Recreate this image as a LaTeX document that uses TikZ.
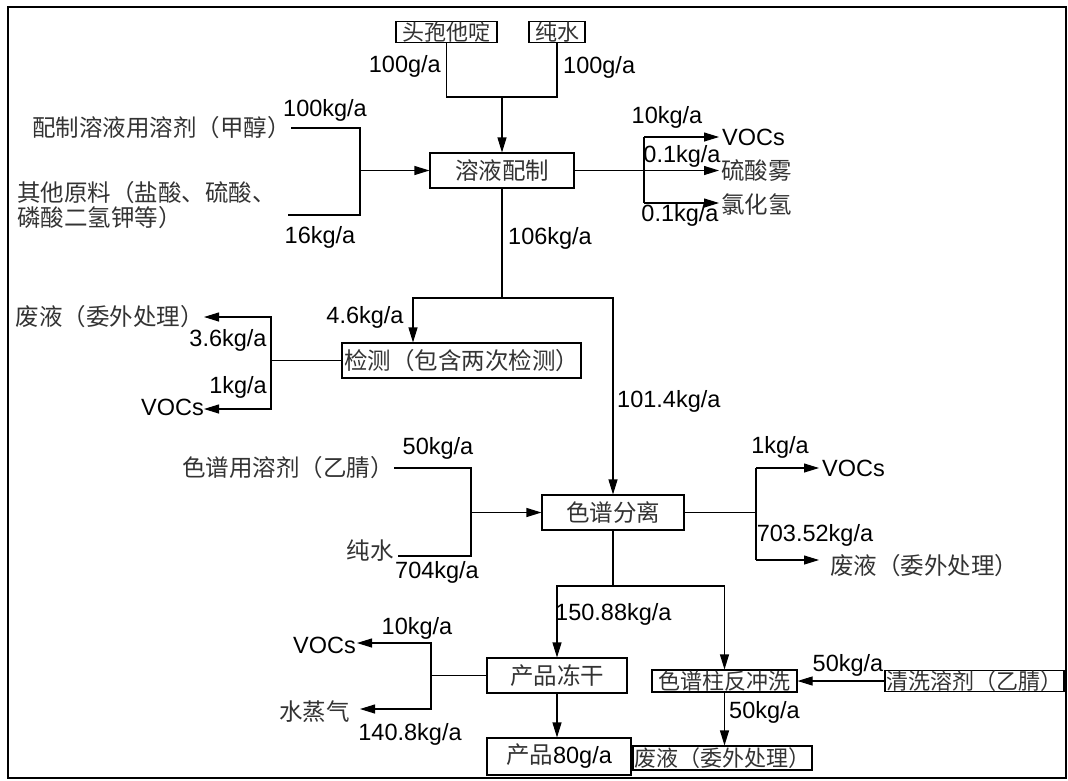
\documentclass[tikz,border=0pt]{standalone}
\usepackage{fontspec}
\setmainfont{Liberation Sans}
\newfontfamily\cjk{Noto Sans CJK SC}
\usetikzlibrary{arrows.meta}
\begin{document}
\begin{tikzpicture}[x=1pt,y=-1pt,
  every node/.style={inner sep=0pt},
  cn/.style={font=\cjk\fontsize{23.5}{25}\selectfont, text=black!80},
  num/.style={font=\fontsize{23.5}{25}\selectfont},
  box/.style={draw, line width=1.1pt, cn},
  tbox/.style={draw, line width=1.1pt, font=\cjk\fontsize{22}{23}\selectfont, text=black!80},
  ln/.style={line width=1.1pt},
  arr/.style={ln, -{Triangle[length=15pt,width=9pt]}}]
\useasboundingbox (0,0) rectangle (1068,780);
\draw[line width=1.5pt] (8,7) rectangle (1066,778);

% boxes
\node[tbox, minimum width=101, minimum height=20] (ceft) at (446.5,32) {头孢他啶};
\node[tbox, minimum width=56, minimum height=20] (water1) at (557,32) {纯水};
\node[box, minimum width=144, minimum height=35] (prep) at (502,170.5) {溶液配制};
\node[box, minimum width=239, minimum height=35] (check) at (461.5,360.5) {检测（包含两次检测）};
\node[box, minimum width=142, minimum height=35] (sep) at (613,512.5) {色谱分离};
\node[box, minimum width=140, minimum height=35] (freeze) at (557,675.5) {产品冻干};
\node[box, minimum width=144, minimum height=37] (product) at (559,756.5) {产品{\rmfamily\color{black}80g/a}};
\node[tbox, minimum width=145, minimum height=22] (back) at (724.5,681) {色谱柱反冲洗};
\node[tbox, minimum width=179, minimum height=21] (wash) at (974.5,681) {清洗溶剂（乙腈）};
\node[tbox, minimum width=179, minimum height=24] (waste3) at (722.5,758) {废液（委外处理）};

% top inputs
\coordinate (m1) at (502,97);
\draw[ln] (ceft.south) |- (m1) -| (water1.south);
\draw[arr] (m1) -- (prep.north);
\node[num, anchor=east] at (441,66) {100g/a};
\node[num, anchor=west] at (563,67) {100g/a};

% left inputs to prep
\node[cn, anchor=east] (in1) at (291,128) {配制溶液用溶剂（甲醇）};
\node[cn, anchor=west, align=left] (in2) at (17,205) {其他原料（盐酸、硫酸、\\磷酸二氢钾等）};
\coordinate (a2) at (288,215);
\coordinate (j2) at (360,170.5);
\draw[ln] (in1.east) -| (j2);
\draw[ln] (a2) -| (j2);
\draw[arr] (j2) -- (prep.west);
\node[num] at (325,110) {100kg/a};
\node[num] at (320,237) {16kg/a};

% prep outputs
\node[num, anchor=west] (voc1) at (722,137) {VOCs};
\node[cn, anchor=west] (acid) at (721,171) {硫酸雾};
\node[cn, anchor=west] (hcl) at (721,205) {氯化氢};
\coordinate (j3) at (644,170.5);
\coordinate (e1) at (719,137);
\coordinate (e2) at (719,203);
\draw[arr] (prep.east) -- ([xshift=-2pt]acid.west |- prep.east);
\draw[ln] (e1 -| j3) -- (e2 -| j3);
\draw[arr] (e1 -| j3) -- (e1);
\draw[arr] (e2 -| j3) -- (e2);
\node[num] at (667,117) {10kg/a};
\node[num] at (682,156) {0.1kg/a};
\node[num] at (680,215) {0.1kg/a};
\node[num] at (550,238) {106kg/a};

% split to check and sep
\coordinate (j4) at (502,298);
\coordinate (j4l) at (413,298);
\draw[ln] (prep.south) -- (j4);
\draw[arr] (j4) -| (check.north -| j4l);
\draw[arr] (j4) -| (sep.north);
\node[num] at (365,317) {4.6kg/a};
\node[num, anchor=west] at (617,401) {101.4kg/a};

% check outputs
\coordinate (j5) at (271,360.5);
\node[cn, anchor=east] (waste1) at (204,317) {废液（委外处理）};
\node[num, anchor=east] (voc2) at (204,407) {VOCs};
\draw[ln] (check.west) -- (j5);
\draw[arr] (j5) |- (waste1.east);
\draw[arr] (j5) |- ([yshift=-2pt]voc2.east);
\node[num] at (228,340) {3.6kg/a};
\node[num] at (238,387) {1kg/a};

% sep inputs
\node[cn, anchor=east] (solv2) at (394,468) {色谱用溶剂（乙腈）};
\node[cn, anchor=east] (water2) at (394,551) {纯水};
\coordinate (a6) at (398,556);
\coordinate (j6) at (471,512.5);
\draw[ln] (solv2.east) -| (j6);
\draw[ln] (a6) -| (j6);
\draw[arr] (j6) -- (sep.west);
\node[num] at (438,448) {50kg/a};
\node[num] at (437,572) {704kg/a};

% sep outputs
\coordinate (j7) at (756,512.5);
\node[num, anchor=west] (voc3) at (822,468) {VOCs};
\node[cn, anchor=west] (waste2) at (830,566) {废液（委外处理）};
\coordinate (e3) at (819,468);
\coordinate (e4) at (819,560);
\draw[ln] (sep.east) -- (j7);
\draw[ln] (e3 -| j7) -- (e4 -| j7);
\draw[arr] (e3 -| j7) -- (e3);
\draw[arr] (e4 -| j7) -- (e4);
\node[num] at (780,447) {1kg/a};
\node[num] at (815,535) {703.52kg/a};

% bottom
\coordinate (j8) at (613,586);
\draw[ln] (sep.south) -- (j8);
\draw[arr] (j8) -| (freeze.north);
\draw[arr] (j8) -| (back.north);
\draw[arr] (freeze.south) -- (freeze.south |- product.north);
\draw[arr] (back.south) -- (back.south |- waste3.north);
\draw[arr] (wash.west) -- (back.east);
\node[num, anchor=west] at (555,614) {150.88kg/a};
\node[num] at (848,665) {50kg/a};
\node[num, anchor=west] at (729,712) {50kg/a};

% freeze outputs
\coordinate (j9) at (431,675.5);
\node[num, anchor=east] (voc4) at (356,645) {VOCs};
\node[cn, anchor=east] (steam) at (350,712) {水蒸气};
\coordinate (e5) at (357,643);
\coordinate (e6) at (360,709);
\draw[ln] (freeze.west) -- (j9);
\draw[arr] (j9) |- (e5);
\draw[arr] (j9) |- (e6);
\node[num] at (417,628) {10kg/a};
\node[num] at (410,734) {140.8kg/a};
\end{tikzpicture}
\end{document}
